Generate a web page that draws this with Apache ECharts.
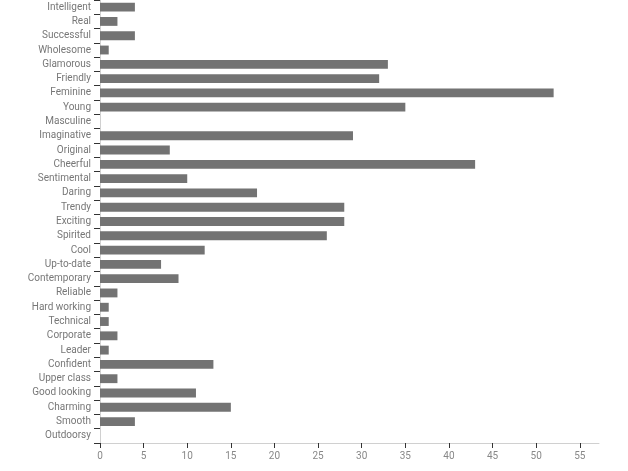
<!DOCTYPE html>
<html>
<head>
<meta charset="utf-8">
<script src="https://cdn.jsdelivr.net/npm/echarts@6/dist/echarts.min.js"></script>
<style>html,body{margin:0;padding:0;background:#fff}#c{width:628px;height:471px}</style>
</head>
<body>
<div id="c"></div>
<script>
var categories = ["Intelligent","Real","Successful","Wholesome","Glamorous","Friendly","Feminine","Young","Masculine","Imaginative","Original","Cheerful","Sentimental","Daring","Trendy","Exciting","Spirited","Cool","Up-to-date","Contemporary","Reliable","Hard working","Technical","Corporate","Leader","Confident","Upper class","Good looking","Charming","Smooth","Outdoorsy"];
var values = [4,2,4,1,33,32,52,35,0,29,8,43,10,18,28,28,26,12,7,9,2,1,1,2,1,13,2,11,15,4,0];
var xTicks = [0,5,10,15,20,25,30,35,40,45,50,55];
var xMax = 57.2;

var chart = echarts.init(document.getElementById('c'), null, {renderer:'canvas'});
chart.setOption({
  animation:false,
  grid:{left:100,right:29,top:-3,bottom:28,containLabel:false},
  xAxis:{
    type:'value', min:0, max:xMax,
    axisLine:{show:true,lineStyle:{color:'#d0d0d0',width:1}},
    axisTick:{show:true,length:5,lineStyle:{color:'#333'},customValues:xTicks},
    axisLabel:{color:'#888',fontSize:10,fontFamily:'Roboto',margin:8,customValues:xTicks},
    splitLine:{show:false}
  },
  yAxis:{
    type:'category', data:categories, inverse:true,
    axisLine:{show:true,lineStyle:{color:'#d0d0d0',width:1}},
    axisTick:{show:true,length:6,lineStyle:{color:'#333'},alignWithLabel:false},
    axisLabel:{color:'#777',fontSize:10,fontFamily:'Roboto',margin:9,interval:0},
    splitLine:{show:false}
  },
  series:[{type:'bar',data:values,barCategoryGap:'38%',itemStyle:{color:'#737373'},silent:true}]
});
</script>
</body>
</html>
